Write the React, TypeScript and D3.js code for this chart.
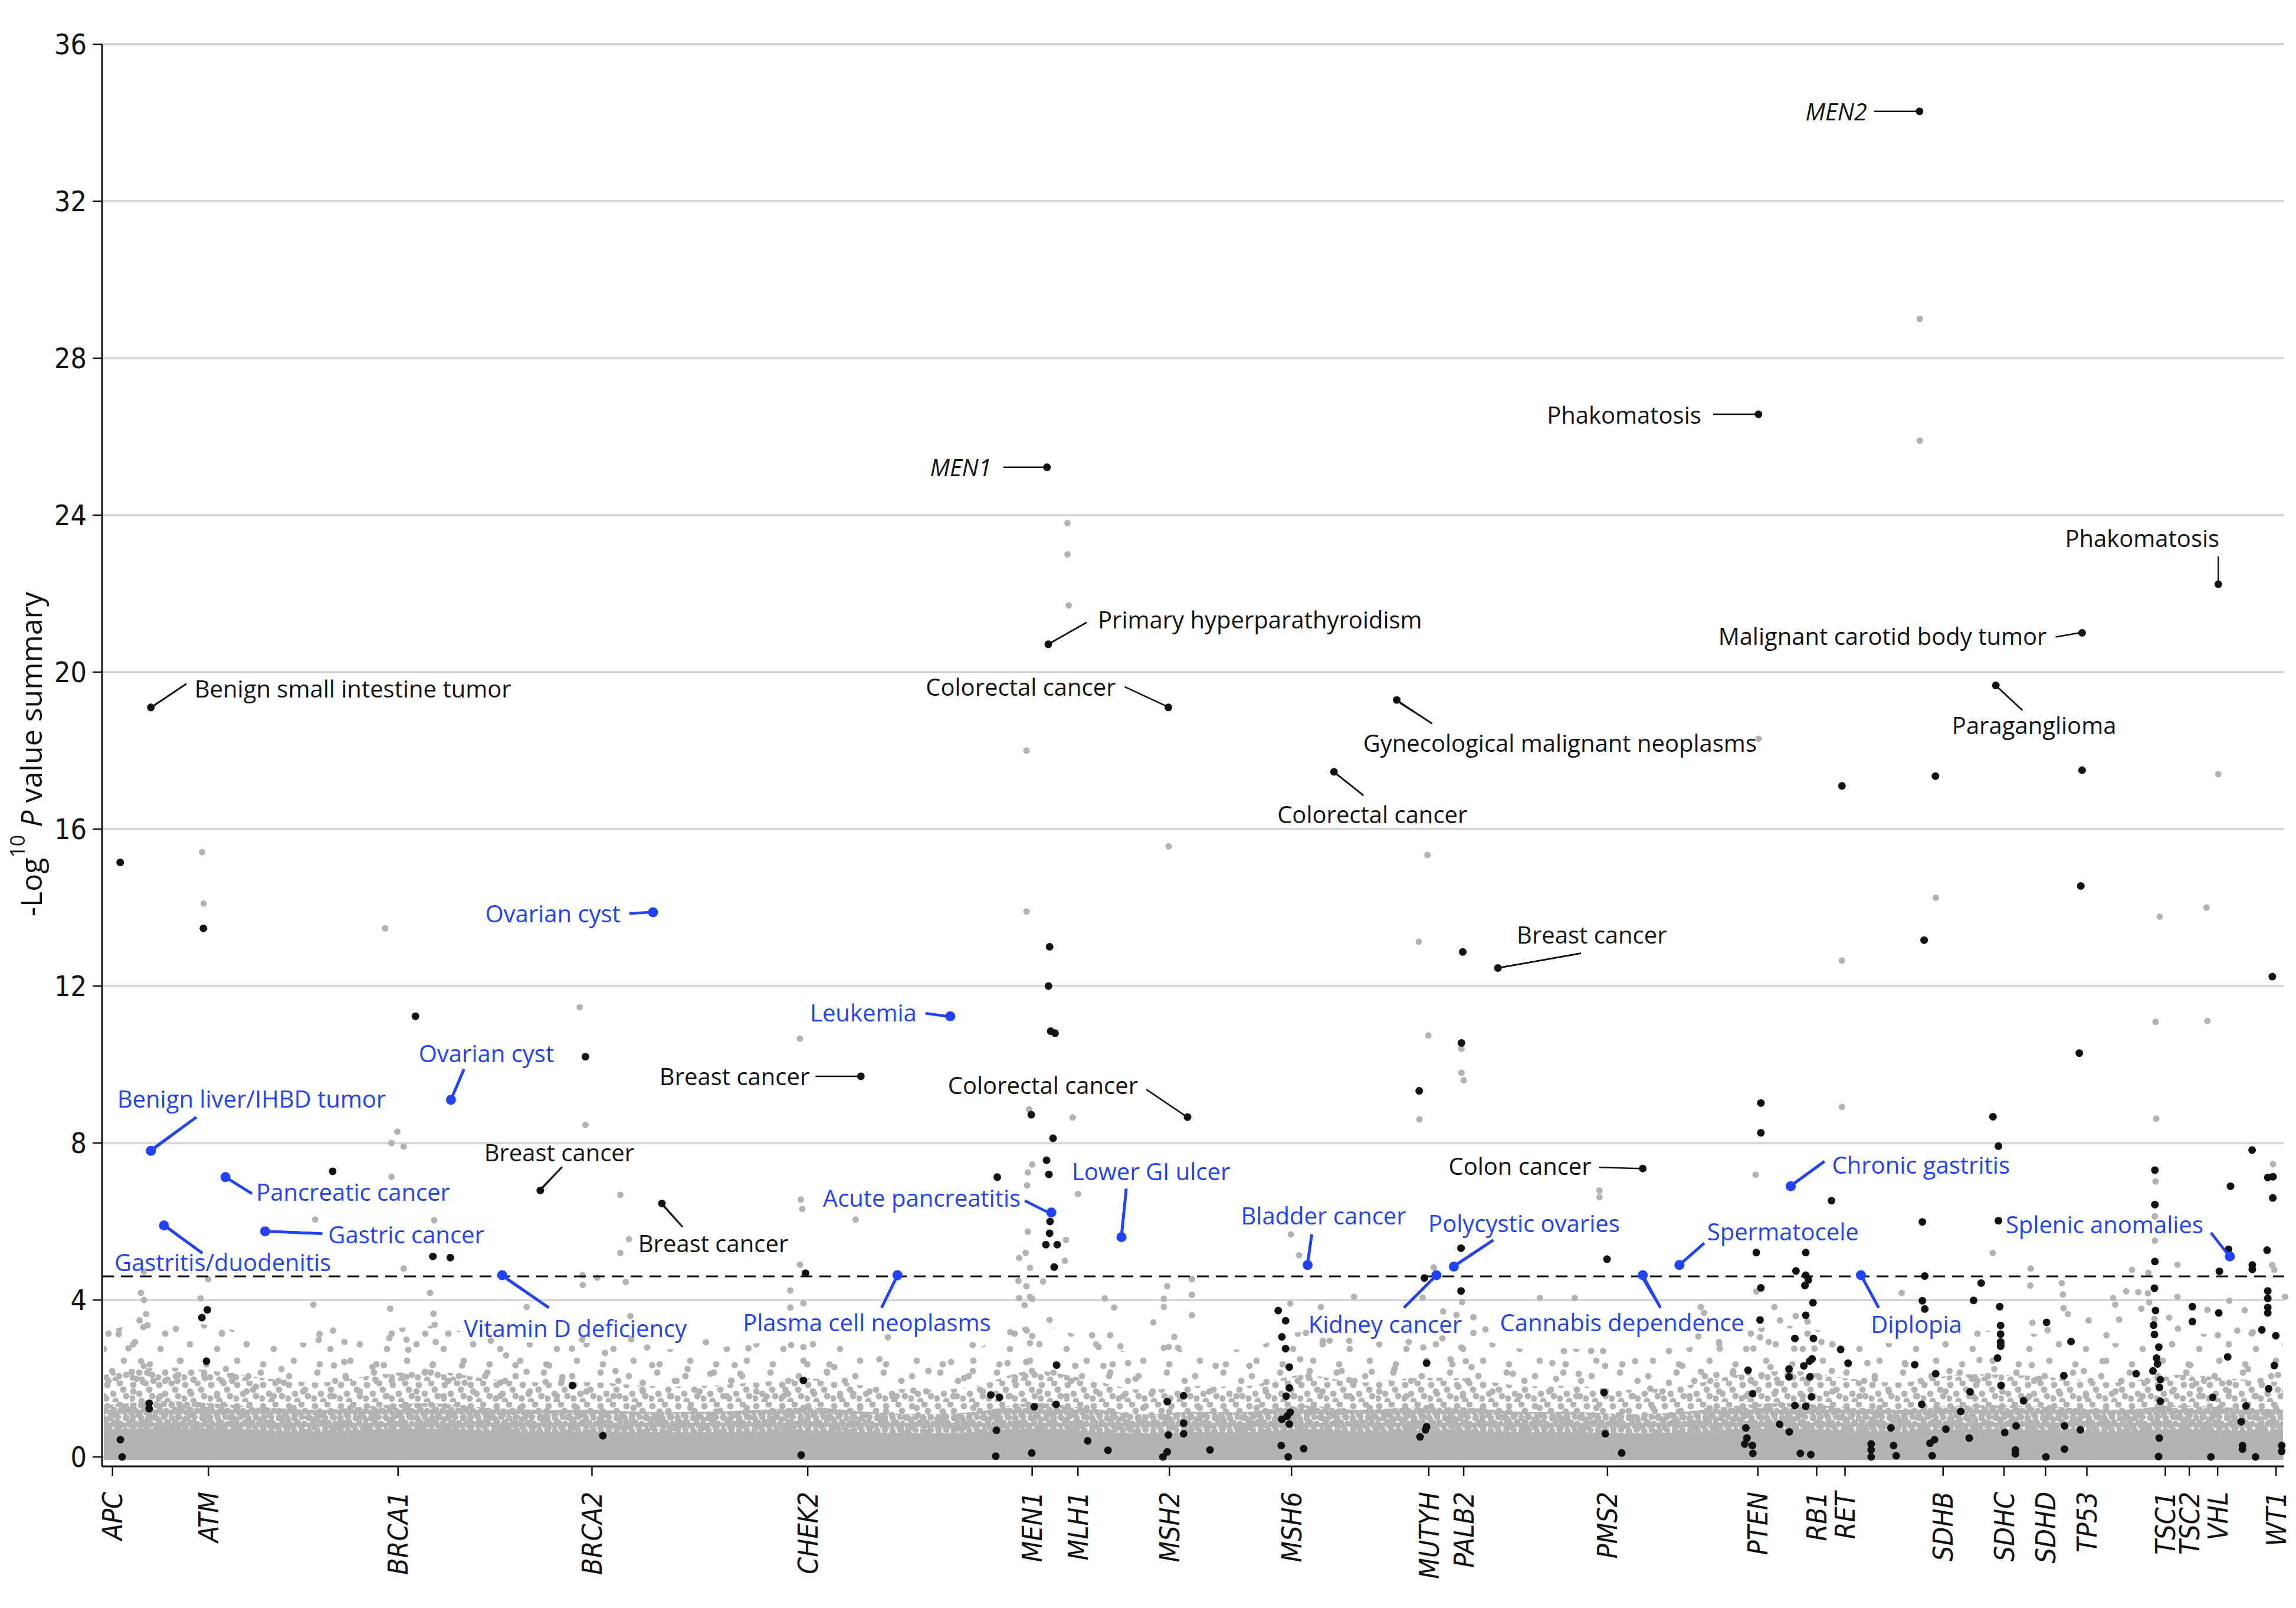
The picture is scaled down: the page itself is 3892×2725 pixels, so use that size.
import React from "react";
import * as d3 from "d3";

// PheWAS-style summary plot: -log10 P per phenotype, grouped by gene

const W = 3892;
const H = 2725;

const geneNames = ["APC", "ATM", "BRCA1", "BRCA2", "CHEK2", "MEN1", "MLH1", "MSH2", "MSH6", "MUTYH", "PALB2", "PMS2", "PTEN", "RB1", "RET", "SDHB", "SDHC", "SDHD", "TP53", "TSC1", "TSC2", "VHL", "WT1"];
const genePos = [4, 48, 135, 224, 323, 426, 447, 489, 545, 608, 624, 690, 759, 786, 799, 844, 872, 891, 910, 946, 957, 970, 996.8];

const yTicks = [0, 4, 8, 12, 16, 20, 24, 28, 32, 36];
const threshold = 4.6;

// dense cloud of non-significant results, read as density envelopes per bin
const bandX = [0, 25, 50, 75, 100, 125, 150, 175, 200, 225, 250, 275, 300, 325, 350, 375, 400, 425, 450, 475, 500, 525, 550, 575, 600, 625, 650, 675, 700, 725, 750, 775, 800, 825, 850, 875, 900, 925, 950, 975, 1000];
const bandSolid = [0.7, 0.74, 0.72, 0.67, 0.65, 0.7, 0.72, 0.67, 0.65, 0.65, 0.63, 0.63, 0.65, 0.67, 0.63, 0.6, 0.63, 0.72, 0.67, 0.6, 0.63, 0.63, 0.7, 0.65, 0.67, 0.67, 0.63, 0.63, 0.6, 0.63, 0.7, 0.72, 0.67, 0.65, 0.7, 0.7, 0.67, 0.65, 0.7, 0.67, 0.65];
const bandDense = [1.31, 1.42, 1.37, 1.26, 1.2, 1.31, 1.37, 1.26, 1.2, 1.2, 1.15, 1.15, 1.2, 1.26, 1.15, 1.09, 1.15, 1.37, 1.26, 1.09, 1.15, 1.15, 1.31, 1.2, 1.26, 1.26, 1.15, 1.15, 1.09, 1.15, 1.31, 1.37, 1.26, 1.2, 1.31, 1.31, 1.26, 1.2, 1.31, 1.26, 1.2];
const bandMid = [2.09, 2.28, 2.19, 2.0, 1.9, 2.09, 2.19, 2.0, 1.9, 1.9, 1.81, 1.81, 1.9, 2.0, 1.81, 1.71, 1.81, 2.19, 2.0, 1.71, 1.81, 1.81, 2.09, 1.9, 2.0, 2.0, 1.81, 1.81, 1.71, 1.81, 2.09, 2.19, 2.0, 1.9, 2.09, 2.09, 2.0, 1.9, 2.09, 2.0, 1.9];
const bandSparse = [3.19, 3.48, 3.34, 3.05, 2.9, 3.19, 3.34, 3.05, 2.9, 2.9, 2.76, 2.76, 2.9, 3.05, 2.76, 2.61, 2.76, 3.34, 3.05, 2.61, 2.76, 2.76, 3.19, 2.9, 3.05, 3.05, 2.76, 2.76, 2.61, 2.76, 3.19, 3.34, 3.05, 2.9, 3.19, 3.19, 3.05, 2.9, 3.19, 3.05, 2.9];

// scattered non-significant results above the cloud
const grayPts = [
  [45.1, 15.41], [45.8, 14.1], [129.1, 13.47], [218.4, 11.46], [221, 8.46], [134.7, 8.29], [132, 8.0], [137.6, 7.91], [132, 7.14], [237, 6.68],
  [97, 6.05], [151.6, 6.03], [241, 5.55], [237, 5.2], [137.6, 4.8], [47.9, 4.53], [18.4, 4.72], [219.7, 4.63], [226.4, 4.57], [219.8, 4.38],
  [239.5, 4.46], [17, 4.18], [44.4, 4.04], [149.7, 4.18], [18.4, 4.0], [19.4, 3.64], [16.4, 3.48], [18.1, 3.31], [96.2, 3.88], [131.4, 3.78],
  [151.3, 3.65], [194, 3.82], [241.6, 3.59], [6.8, 3.13], [14.3, 2.93], [11.3, 2.77], [54.2, 3.16], [99, 3.13], [105.2, 3.22], [98.6, 2.98],
  [110.4, 2.93], [131, 3.03], [138.9, 2.99], [139.7, 2.73], [147.5, 3.14], [151.8, 3.37], [152.3, 2.93], [177.6, 2.96], [184.6, 2.59], [214.8, 2.76],
  [219.5, 2.99], [230, 2.65], [242, 3.0], [249.3, 2.79],
  [319.4, 10.66], [424.6, 8.86], [444.6, 8.65], [426, 7.45], [424, 7.25], [423.7, 6.92], [319.8, 6.56], [320.5, 6.32], [345, 6.05], [447, 6.7],
  [424, 5.74], [441.5, 5.53], [423, 5.2], [420, 5.07], [441, 5.0], [425, 4.82], [319.4, 4.9], [419.7, 4.49], [423.4, 4.35], [431, 4.47],
  [499.3, 4.53], [488, 4.35], [499.3, 4.13], [315, 4.24], [321, 3.92], [315, 3.81], [420, 4.05], [425, 4.08], [426, 4.03], [459.3, 4.04],
  [486.4, 4.03], [486.4, 3.82], [422.5, 3.87], [463.6, 3.81], [499.3, 3.61], [434, 3.49], [481.6, 3.43], [416, 3.18], [423.5, 3.22], [426, 3.08],
  [453.5, 3.1], [461.8, 3.1], [491.2, 3.06], [315.4, 2.85], [321, 2.8], [295.8, 2.77], [276.3, 2.92], [359.8, 3.05], [398.7, 2.85], [425, 2.9],
  [456.5, 2.8], [466.5, 2.82], [486.4, 2.78], [488.7, 2.8], [493, 2.78],
  [607.8, 10.74], [623, 10.4], [623, 9.79], [624, 9.6], [603.7, 8.6], [797.6, 8.92], [758, 7.19], [686.3, 6.79], [686.3, 6.62], [544.7, 5.67],
  [548.5, 5.14], [610.3, 4.83], [573.7, 4.08], [605.2, 4.06], [623.3, 3.95], [659, 4.05], [675, 4.05], [544.4, 3.91], [558.5, 3.82], [732.8, 3.82],
  [758.3, 4.22], [766.6, 3.82], [614.6, 3.71], [734.3, 3.67], [776.4, 3.59], [620.7, 3.62], [628.5, 3.56], [769.2, 3.48], [781.8, 3.45], [551.6, 3.16],
  [559.4, 2.96], [562.5, 2.96], [571.5, 2.96], [598.8, 2.93], [605.5, 2.79], [614.2, 3.02], [623, 2.79], [634, 3.25], [628.5, 3.16], [670, 2.7],
  [682.5, 2.7], [688, 2.7], [718.2, 2.7], [731.7, 3.07], [741.2, 2.93], [741.5, 2.76], [757, 2.76], [760, 3.05], [764, 2.93], [775.7, 2.76],
  [785, 2.76], [788.2, 2.93],
  [941.5, 11.09], [965.3, 11.11], [941.8, 8.62], [866.8, 5.2], [941.5, 7.02], [941.2, 6.13], [941.2, 5.51], [995.4, 7.46], [884.2, 4.8], [930.7, 4.77],
  [938.2, 4.69], [951.6, 4.9], [995, 4.89], [996, 4.77], [884, 4.37], [898.5, 4.43], [899, 4.14], [825, 4.18], [928, 4.22], [933.6, 4.2],
  [938, 4.17], [951.6, 4.08], [922, 4.05], [1001, 4.08], [975.4, 3.98], [923, 3.88], [935, 3.78], [938.6, 3.94], [899.3, 3.79], [901.3, 3.64],
  [965.3, 3.75], [982.4, 3.74], [924.8, 3.5], [941, 3.52], [947.8, 3.55], [910.8, 3.48], [951.8, 3.27], [970.1, 3.1], [979, 3.22], [985.6, 3.15],
  [986.1, 3.18], [885, 3.42], [892, 3.23], [919, 3.1],
  [423.4, 18.0], [423.4, 13.9], [442.2, 23.8], [442.2, 23.0], [442.8, 21.7], [488.6, 15.56], [607.4, 15.34], [603.4, 13.13], [759.4, 18.3], [797.6, 12.65],
  [833.3, 29.0], [833.3, 25.9], [840.7, 14.25], [943.4, 13.77], [970.3, 17.4], [964.9, 14.0],
  [17.1, 2.44], [3.8, 2.19], [12.8, 2.17], [18.3, 2.32], [20, 2.14], [15, 1.99], [18, 1.91], [22.8, 1.94], [34.9, 2.45], [33.8, 1.94],
  [41.2, 1.96], [46.4, 2.01], [56, 2.24], [58.9, 1.94], [66.3, 2.06], [69.8, 1.79], [81.5, 2.24], [82.7, 1.89], [105.6, 2.33], [110.3, 2.42],
  [111.2, 2.01], [123.3, 2.29], [128.5, 2.34], [125, 1.94], [138.8, 2.04], [147.4, 2.17], [150.9, 2.34], [164.4, 2.33], [165.6, 1.89], [175, 2.06],
  [181.9, 1.89], [188.9, 2.34], [194, 2.17], [204.4, 2.33], [202.7, 1.91], [210.4, 2.04],
  [234.8, 2.19], [251.6, 2.34], [267.9, 2.24], [278.3, 2.12], [289.5, 2.34], [292.1, 2.12], [287.8, 1.94], [247.3, 1.89], [262.8, 1.94], [304.2, 1.54],
  [312.8, 1.71], [322.8, 2.36], [331.8, 2.17], [335.2, 2.29], [343.9, 1.61], [355.9, 2.49], [362, 1.54], [371.5, 1.69], [378.4, 2.19], [388.8, 2.42],
  [398.8, 2.19], [394.8, 2.01], [414.7, 2.39], [423.3, 2.42], [425.9, 2.19], [445.8, 2.32], [458.7, 2.32], [470, 2.39], [461.3, 2.06], [473.4, 1.99],
  [510.2, 2.32], [525.7, 2.32], [533.5, 1.91], [549, 2.49], [553.4, 2.19], [568, 2.19], [571.5, 1.96], [581.8, 2.17], [592.2, 2.24], [618, 2.49],
  [625, 2.44], [627.6, 2.29], [621.6, 1.79], [646.6, 2.12], [664.7, 2.39], [666.4, 1.99], [676.8, 2.12], [688.9, 2.32], [702.7, 2.44], [709.6, 1.74],
  [718.2, 1.89], [724.3, 2.32], [732.9, 2.17], [737.2, 1.94], [747.6, 2.12],
  [740, 2.09], [747.7, 2.19], [764.8, 2.29], [768.2, 1.89], [793, 2.19], [809.3, 2.39], [812.7, 1.99], [826.5, 2.39], [847, 2.19], [857.3, 1.99],
  [860.7, 2.47], [867.5, 2.24], [884.7, 2.34], [888.1, 1.99], [908.6, 2.19], [917.2, 2.44], [925.8, 1.94], [957.4, 2.34], [958.3, 1.82], [984, 2.24],
  [997.7, 2.09], [975.3, 1.89],
];

// significant results without a label
const blackPts = [
  [7.5, 15.15], [7.6, 0.44], [8.4, 0.0], [20.8, 1.37], [20.8, 1.23], [47.1, 2.44], [45.7, 13.47], [45, 3.55], [47.5, 3.75],
  [105, 7.28], [143, 11.23], [151, 5.11], [159, 5.08], [221, 10.2], [215, 1.82], [229, 0.54],
  [322, 4.68], [321, 1.95], [320, 0.05],
  [410, 7.13], [425.6, 8.72], [434, 13.0], [433.5, 12.0], [434.5, 10.85], [436.5, 10.8], [435.6, 8.12], [432.6, 7.56], [433.7, 7.2], [434.2, 6.0],
  [434, 5.7], [432.3, 5.41], [437.5, 5.41], [436.1, 4.84], [437.2, 2.34], [407, 1.58], [411, 1.52], [427, 1.28], [437, 1.34], [409.6, 0.68],
  [409.3, 0.02], [425.8, 0.1], [451.5, 0.41], [460.8, 0.17],
  [488, 1.41], [488.5, 0.56], [488, 0.13], [486, 0.0], [495.5, 1.56], [495.5, 0.86], [495.5, 0.59], [507.6, 0.18],
  [538.9, 3.73], [542.3, 3.47], [540.6, 3.06], [542.3, 2.76], [544, 2.29], [544, 1.76], [542.6, 1.55], [540.6, 0.96], [543, 1.04], [544.4, 1.14],
  [544, 0.84], [540.3, 0.29], [543.5, 0.0], [550.6, 0.21],
  [603.6, 9.33], [606, 4.56], [607, 2.39], [607, 0.77], [606.5, 0.69], [604, 0.51],
  [623.6, 12.87], [623, 10.55], [622.8, 5.32], [622.8, 4.23],
  [689.8, 5.04], [688.4, 1.64], [689, 0.59], [696.5, 0.1],
  [760.4, 9.02], [760.4, 8.26], [758.3, 5.21], [760.4, 4.31], [760, 3.49], [754.5, 2.21], [756.6, 1.61], [753.5, 0.74], [754, 0.48], [753, 0.33],
  [756.5, 0.29], [756.7, 0.09], [769, 0.83], [773.4, 0.64],
  [792.8, 6.53], [781, 5.21], [776.5, 4.74], [781, 4.63], [782.2, 4.51], [780.6, 4.37], [784.3, 3.93], [781, 3.61], [776, 3.02], [784.5, 3.02],
  [797, 2.74], [797.6, 17.1], [778.5, 0.09], [783.3, 0.06], [776, 1.31], [781, 1.29], [773.3, 2.24], [773.3, 2.04], [780.1, 2.32], [782.7, 2.44],
  [783.9, 2.5], [782.9, 2.04], [783.6, 1.53], [800.4, 2.39], [811, 0.33], [811, 0.18], [811, 0.0], [821.3, 0.29], [822.5, 0.03], [820.1, 0.74],
  [831, 2.35],
  [840.5, 17.35], [835.3, 13.17], [834.5, 5.99], [835.6, 4.61], [834.5, 3.98], [835.6, 3.77], [840.6, 2.12], [834.2, 1.34], [845.3, 0.71], [840.1, 0.44],
  [838, 0.35], [839, 0.03], [852.1, 1.16], [856.4, 1.66], [856, 0.48],
  [866.9, 8.67], [869.4, 7.92], [869.4, 6.02], [861.5, 4.43], [858, 3.99], [870, 3.83], [870.4, 3.35], [870.4, 3.13], [870.4, 2.93], [870.4, 2.82],
  [869, 2.52], [870.6, 1.82], [877.5, 0.79], [872.3, 0.62], [877.2, 0.18], [877.2, 0.08], [880.9, 1.43],
  [891.5, 3.43], [891.2, 0.0], [899.4, 2.07], [899.7, 0.79], [899.7, 0.2], [902.7, 2.94],
  [906.5, 10.29], [907.8, 17.5], [907.2, 14.55], [907, 0.69],
  [941.2, 7.31], [941.2, 6.43], [941.2, 4.98], [941, 4.3], [941.5, 3.73], [940.6, 3.36], [941, 3.12], [943, 2.8], [932.6, 2.12], [940.3, 2.19],
  [942, 2.52], [942.4, 2.37], [943.7, 1.97], [943.3, 1.77], [943.7, 1.42], [943.2, 0.48], [942.9, 0.01], [958.4, 3.83], [958.4, 3.45],
  [975.9, 6.9], [975, 5.29], [970.8, 4.73], [970.5, 3.67], [967.7, 1.52], [966.9, 0.0], [974.6, 2.55],
  [995.1, 12.24], [985.8, 7.82], [993, 7.12], [995.4, 7.14], [995.3, 6.6], [992.7, 5.27], [985.9, 4.89], [985.9, 4.78], [993, 4.23], [993, 4.04],
  [993, 3.81], [993, 3.67], [990.3, 3.24], [996.7, 3.09], [980.8, 0.9], [983, 1.3], [981.4, 0.29], [981.4, 0.2], [987.4, 0.0], [993.4, 1.74],
  [996, 2.33], [999.4, 0.29], [999.4, 0.14],
];

// labelled results
const hitLabels = [
  "MEN2", "Phakomatosis", "MEN1", "Phakomatosis", "Primary hyperparathyroidism", "Malignant carotid body tumor",
  "Benign small intestine tumor", "Colorectal cancer", "Paraganglioma", "Gynecological malignant neoplasms", "Colorectal cancer",
  "Ovarian cyst", "Breast cancer", "Leukemia", "Breast cancer", "Colorectal cancer", "Ovarian cyst", "Benign liver/IHBD tumor",
  "Breast cancer", "Breast cancer", "Pancreatic cancer", "Gastric cancer", "Gastritis/duodenitis", "Vitamin D deficiency",
  "Plasma cell neoplasms", "Acute pancreatitis", "Lower GI ulcer", "Bladder cancer", "Kidney cancer", "Polycystic ovaries",
  "Cannabis dependence", "Spermatocele", "Colon cancer", "Chronic gastritis", "Diplopia", "Splenic anomalies",
];
const hitX = [833.2, 759.3, 432.8, 970.3, 433.4, 907.8, 21.6, 488.5, 868.2, 593.3, 564.5, 252, 639.7, 388.4, 347.4, 497.3, 159.3, 21.6, 200.3, 256.1, 55.8, 74.0, 27.6, 182.8, 364.2, 434.8, 467.0, 552.4, 611.5, 619.5, 706.2, 723.0, 706.2, 774.1, 806.3, 975.6];
const hitY = [34.29, 26.57, 25.22, 22.24, 20.71, 21.0, 19.1, 19.1, 19.66, 19.29, 17.46, 13.88, 12.46, 11.23, 9.7, 8.66, 9.1, 7.8, 6.79, 6.46, 7.13, 5.75, 5.9, 4.63, 4.63, 6.23, 5.6, 4.89, 4.63, 4.85, 4.63, 4.89, 7.35, 6.9, 4.63, 5.11];
const hitNovel = [false, false, false, false, false, false, false, false, false, false, false, true, false, true, false, false, true, true, false, false, true, true, true, true, true, true, true, true, true, true, true, true, false, true, true, true];

// label placement, px offsets from the point: [textDx, textDy, anchor, lineX1, lineY1, lineX2, lineY2]
const labelLayout: [number, number, string, number, number, number, number][] = [
  [-89, 0, "end", -77, 0, -7, 0],
  [-97, 0, "end", -77, 0, -5, 0],
  [-94, 0, "end", -74, 0, -7, 0],
  [-129, -79, "middle", 0, -47, 0, -5],
  [84, -42, "start", 5, -3, 65, -37],
  [-60, 5, "end", -45, 7, -5, 0],
  [74, -32, "start", 5, -3, 60, -40],
  [-89, -35, "end", -74, -35, -5, -3],
  [65, 67, "middle", 3, 3, 45, 42],
  [-57, 72, "start", 5, 5, 60, 40],
  [65, 72, "middle", 3, 3, 50, 40],
  [-55, 2, "end", -40, 2, -5, 0],
  [32, -57, "start", 5, -1, 141, -25],
  [-57, -7, "end", -42, -5, -5, 0],
  [-87, 0, "end", -77, 0, -5, 0],
  [-84, -55, "end", -70, -47, -5, -3],
  [60, -79, "middle", 2, -5, 22, -52],
  [-57, -89, "start", 5, -5, 77, -57],
  [32, -65, "middle", 3, -5, 37, -40],
  [87, 67, "middle", 3, 5, 35, 40],
  [52, 25, "start", 5, 3, 45, 28],
  [107, 5, "start", 5, 0, 97, 4],
  [-84, 62, "start", 5, 3, 65, 47],
  [124, 89, "middle", 3, 3, 79, 55],
  [-52, 79, "middle", -2, 5, -27, 55],
  [-52, -25, "end", -45, -20, -5, 0],
  [50, -112, "middle", 0, -5, 8, -82],
  [27, -84, "middle", 0, -5, 7, -52],
  [-87, 82, "middle", -3, 3, -55, 55],
  [119, -74, "middle", 3, -3, 67, -45],
  [-35, 79, "middle", 0, 5, 30, 55],
  [47, -57, "start", 3, -3, 42, -37],
  [-87, -5, "end", -74, -2, -5, 0],
  [70, -37, "start", 3, -3, 57, -42],
  [94, 82, "middle", 2, 3, 30, 55],
  [-45, -55, "end", -32, -40, -3, -3],
];

const GRAY = "#b3b3b3";
const BLUE = "#2142ff";
const INK = "#111111";
const LABEL_FONT = "'Open Sans', 'Noto Sans', Lato, sans-serif";
const AXIS_FONT = "'DejaVu Sans Condensed', 'DejaVu Sans', sans-serif";

// dot textures used to render the cloud at decreasing density
const textures: { id: string; w: number; h: number; dots: number[][] }[] = [
  { id: "dense", w: 26, h: 22, dots: [[5, 5], [18, 3], [11, 13], [22, 15], [3, 18], [15, 21]] },
  { id: "mid", w: 44, h: 36, dots: [[6, 7], [27, 4], [16, 22], [38, 26], [33, 15], [4, 30], [20, 34]] },
  { id: "sparse", w: 96, h: 80, dots: [[10, 12], [58, 6], [34, 38], [80, 46], [18, 66], [62, 72], [88, 20]] },
];

export default function App() {
  const x = d3.scaleLinear().domain([0, 1000]).range([176, 3870]);
  const y = d3.scaleLinear().domain([0, 36]).range([2469, 75]);
  const axisLeft = 173;
  const axisRight = 3872;
  const axisBottom = 2485;

  const idx = bandX.map((_, i) => i);
  const bandPath = (top: number[]) =>
    d3.area<number>()
      .x((i) => x(bandX[i]))
      .y0(() => y(0) + 5)
      .y1((i) => y(top[i]))
      .curve(d3.curveCatmullRom)(idx) || "";

  return (
    <svg width={W} height={H} style={{ position: "absolute", left: 0, top: 0, background: "#fff" }}>
      <defs>
        {textures.map((t) => (
          <pattern key={t.id} id={t.id} width={t.w} height={t.h} patternUnits="userSpaceOnUse">
            {t.dots.map((d, i) => (
              <circle key={i} cx={d[0]} cy={d[1]} r={5.5} fill={GRAY} />
            ))}
          </pattern>
        ))}
      </defs>

      {/* grid */}
      {yTicks.map((t) => (
        <line key={"g" + t} x1={axisLeft} x2={axisRight} y1={y(t)} y2={y(t)} stroke="#d9d9d9" strokeWidth={4} />
      ))}

      {/* non-significant cloud */}
      <path d={bandPath(bandSparse)} fill="url(#sparse)" />
      <path d={bandPath(bandMid)} fill="url(#mid)" />
      <path d={bandPath(bandDense)} fill="url(#dense)" />
      <path d={bandPath(bandSolid)} fill={GRAY} />
      {grayPts.map((d, i) => (
        <circle key={"p" + i} cx={x(d[0])} cy={y(d[1])} r={5.5} fill={GRAY} />
      ))}

      {/* significance threshold */}
      <line x1={axisLeft} x2={axisRight} y1={y(threshold)} y2={y(threshold)} stroke="#111" strokeWidth={3} strokeDasharray="20 12" />

      {blackPts.map((d, i) => (
        <circle key={"b" + i} cx={x(d[0])} cy={y(d[1])} r={6.5} fill={INK} />
      ))}

      {/* labelled points */}
      {hitLabels.map((lab, i) => {
        const cx = x(hitX[i]);
        const cy = y(hitY[i]);
        const L = labelLayout[i];
        const col = hitNovel[i] ? BLUE : INK;
        const sw = hitNovel[i] ? 4.5 : 2.5;
        const italic = lab === "MEN1" || lab === "MEN2";
        return (
          <g key={"h" + i}>
            <line x1={cx + L[3]} y1={cy + L[4]} x2={cx + L[5]} y2={cy + L[6]} stroke={col} strokeWidth={sw} />
            <line x1={cx} y1={cy} x2={cx + L[5]} y2={cy + L[6]} stroke={col} strokeWidth={sw} />
            <circle cx={cx} cy={cy} r={hitNovel[i] ? 8.5 : 6.5} fill={col} />
            <text x={cx + L[0]} y={cy + L[1]} textAnchor={L[2]} dominantBaseline="central" fill={col}
              fontFamily={LABEL_FONT} fontSize={40} fontStyle={italic ? "italic" : "normal"}>
              {lab}
            </text>
          </g>
        );
      })}

      {/* axes */}
      <line x1={axisLeft} x2={axisLeft} y1={y(36)} y2={axisBottom} stroke="#111" strokeWidth={3} />
      <line x1={axisLeft} x2={axisRight} y1={axisBottom} y2={axisBottom} stroke="#111" strokeWidth={3} />
      {yTicks.map((t) => (
        <g key={"yt" + t}>
          <line x1={axisLeft - 16} x2={axisLeft} y1={y(t)} y2={y(t)} stroke="#111" strokeWidth={2.5} />
          <text x={147} y={y(t)} textAnchor="end" dominantBaseline="central" fontFamily={AXIS_FONT} fontStretch="condensed" fontSize={48} fill="#111">
            {t}
          </text>
        </g>
      ))}
      {geneNames.map((g, i) => (
        <g key={"xt" + g}>
          <line x1={x(genePos[i])} x2={x(genePos[i])} y1={axisBottom} y2={axisBottom + 16} stroke="#111" strokeWidth={2.5} />
          <text transform={`translate(${x(genePos[i])},2528) rotate(-90)`} dy="0.36em" textAnchor="end"
            fontFamily={AXIS_FONT} fontStretch="condensed" fontStyle="italic" fontSize={46} fill="#111">
            {g}
          </text>
        </g>
      ))}

      {/* y title */}
      <text transform="translate(52,1278) rotate(-90)" textAnchor="middle" dominantBaseline="central" fontFamily={LABEL_FONT} fontSize={50} fill="#111">
        -Log<tspan baselineShift="super" fontSize={34}>10</tspan> <tspan fontStyle="italic">P</tspan> value summary
      </text>
    </svg>
  );
}
